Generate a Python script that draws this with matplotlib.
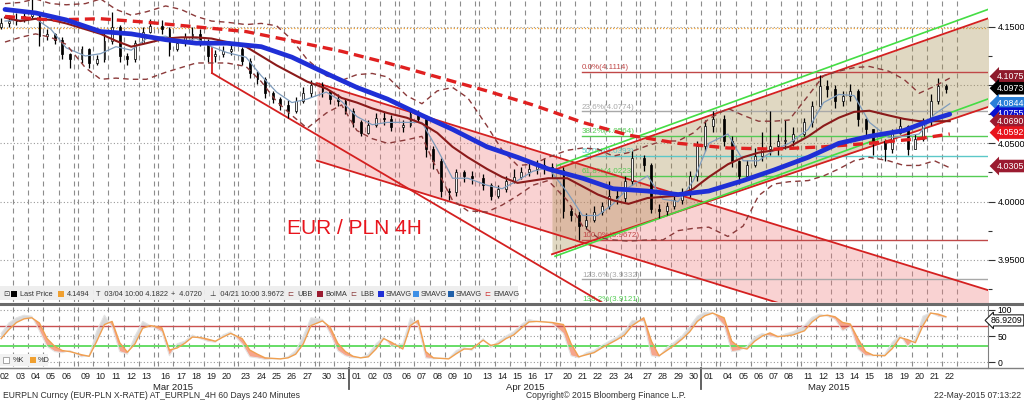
import numpy as np
import pandas as pd
import matplotlib
matplotlib.use('Agg')
import matplotlib.pyplot as plt
from matplotlib.patches import Rectangle
from matplotlib.lines import Line2D
from matplotlib.transforms import blended_transform_factory as blend

plt.rcParams['font.family'] = ['Liberation Sans', 'DejaVu Sans']

############################################################################################
# DATA

days = pd.bdate_range('2015-03-02', '2015-05-22')   # 60 trading days, two bars per day

first_open = 4.150
close = [
    4.153, 4.155, 4.156, 4.159, 4.162, 4.142, 4.144, 4.139, 4.127, 4.122,
    4.131, 4.119, 4.122, 4.138, 4.150, 4.125, 4.122, 4.136, 4.146, 4.151,
    4.148, 4.131, 4.136, 4.141, 4.144, 4.138, 4.125, 4.127, 4.129, 4.131,
    4.121, 4.110, 4.105, 4.093, 4.088, 4.083, 4.078, 4.086, 4.093, 4.100,
    4.095, 4.088, 4.086, 4.078, 4.068, 4.059, 4.066, 4.072, 4.071, 4.064,
    4.066, 4.075, 4.071, 4.045, 4.035, 4.009, 4.008, 4.025, 4.022, 4.020,
    4.014, 4.005, 4.011, 4.018, 4.021, 4.025, 4.028, 4.031, 4.030, 4.027,
    3.992, 3.988, 3.979, 3.984, 3.991, 3.996, 4.005, 4.003, 4.018, 4.037,
    4.031, 3.994, 3.992, 3.996, 4.001, 4.008, 4.022, 4.048, 4.065, 4.071,
    4.052, 4.035, 4.022, 4.031, 4.039, 4.045, 4.048, 4.052, 4.052, 4.058,
    4.068, 4.082, 4.099, 4.097, 4.086, 4.091, 4.095, 4.071, 4.062, 4.052,
    4.045, 4.059, 4.065, 4.045, 4.054, 4.069, 4.086, 4.099, 4.097,
]
high = [
    4.158, 4.160, 4.162, 4.163, 4.182, 4.163, 4.148, 4.145, 4.141, 4.128,
    4.134, 4.132, 4.126, 4.145, 4.163, 4.152, 4.128, 4.139, 4.150, 4.157,
    4.156, 4.150, 4.140, 4.145, 4.150, 4.148, 4.140, 4.130, 4.134, 4.137,
    4.133, 4.123, 4.112, 4.107, 4.095, 4.090, 4.087, 4.090, 4.098, 4.104,
    4.103, 4.096, 4.092, 4.088, 4.080, 4.070, 4.070, 4.076, 4.077, 4.074,
    4.070, 4.078, 4.079, 4.074, 4.048, 4.037, 4.012, 4.028, 4.027, 4.026,
    4.024, 4.016, 4.014, 4.022, 4.028, 4.030, 4.034, 4.036, 4.037, 4.033,
    4.030, 3.996, 3.992, 3.990, 3.996, 4.000, 4.018, 4.010, 4.022, 4.043,
    4.040, 4.033, 3.998, 4.000, 4.005, 4.012, 4.026, 4.052, 4.070, 4.078,
    4.074, 4.056, 4.036, 4.036, 4.046, 4.060, 4.078, 4.058, 4.070, 4.064,
    4.072, 4.086, 4.109, 4.104, 4.100, 4.095, 4.101, 4.097, 4.072, 4.062,
    4.054, 4.062, 4.072, 4.066, 4.058, 4.072, 4.092, 4.106, 4.101,
]
low = [
    4.148, 4.150, 4.152, 4.154, 4.157, 4.134, 4.139, 4.135, 4.122, 4.115,
    4.119, 4.115, 4.117, 4.120, 4.135, 4.120, 4.117, 4.120, 4.135, 4.145,
    4.144, 4.125, 4.129, 4.134, 4.139, 4.134, 4.120, 4.120, 4.124, 4.126,
    4.117, 4.106, 4.101, 4.089, 4.085, 4.079, 4.072, 4.076, 4.085, 4.090,
    4.090, 4.084, 4.082, 4.075, 4.064, 4.056, 4.058, 4.064, 4.066, 4.061,
    4.060, 4.064, 4.068, 4.038, 4.028, 4.004, 4.001, 4.005, 4.017, 4.015,
    4.010, 4.001, 4.003, 4.008, 4.016, 4.019, 4.022, 4.024, 4.024, 4.020,
    3.986, 3.983, 3.967, 3.976, 3.982, 3.988, 3.994, 3.998, 4.000, 4.014,
    4.026, 3.990, 3.986, 3.988, 3.994, 3.998, 4.004, 4.018, 4.043, 4.060,
    4.048, 4.030, 4.015, 4.020, 4.030, 4.035, 4.040, 4.040, 4.045, 4.048,
    4.056, 4.064, 4.080, 4.090, 4.080, 4.082, 4.086, 4.065, 4.055, 4.040,
    4.035, 4.042, 4.058, 4.040, 4.045, 4.052, 4.066, 4.084, 4.093,
]

# daily readings of the overlays (one value per trading day)
bolma = [
    4.158, 4.155, 4.157, 4.156, 4.153, 4.148, 4.144, 4.138, 4.133, 4.136,
    4.140, 4.141, 4.141, 4.140, 4.137, 4.133, 4.125, 4.117, 4.110, 4.103,
    4.097, 4.089, 4.085, 4.080, 4.076, 4.072, 4.067, 4.059, 4.047, 4.038,
    4.028, 4.021, 4.016, 4.018, 4.020, 4.020, 4.013, 4.006, 4.001, 3.998,
    4.003, 4.004, 4.005, 4.011, 4.021, 4.032, 4.038, 4.042, 4.044, 4.047,
    4.056, 4.065, 4.072, 4.077, 4.078, 4.074, 4.071, 4.069, 4.069, 4.069,
]
ubb = [
    4.170, 4.171, 4.174, 4.170, 4.169, 4.170, 4.174, 4.165, 4.160, 4.163,
    4.168, 4.165, 4.159, 4.155, 4.154, 4.152, 4.153, 4.151, 4.139, 4.122,
    4.108, 4.104, 4.109, 4.110, 4.107, 4.091, 4.084, 4.095, 4.098, 4.089,
    4.065, 4.044, 4.031, 4.032, 4.038, 4.044, 4.046, 4.045, 4.039, 4.042,
    4.048, 4.052, 4.052, 4.059, 4.071, 4.080, 4.074, 4.069, 4.069, 4.070,
    4.091, 4.108, 4.112, 4.115, 4.116, 4.112, 4.105, 4.093, 4.099, 4.106,
]
lbb = [
    4.137, 4.141, 4.144, 4.141, 4.135, 4.115, 4.105, 4.106, 4.105, 4.105,
    4.111, 4.115, 4.119, 4.119, 4.119, 4.116, 4.103, 4.086, 4.074, 4.063,
    4.076, 4.083, 4.061, 4.054, 4.050, 4.053, 4.056, 4.027, 4.001, 3.992,
    3.991, 3.997, 4.005, 4.014, 4.018, 4.001, 3.979, 3.969, 3.967, 3.966,
    3.967, 3.967, 3.975, 3.977, 3.978, 3.970, 3.979, 4.005, 4.015, 4.017,
    4.018, 4.022, 4.028, 4.035, 4.038, 4.035, 4.031, 4.031, 4.035, 4.029,
]
sma_fast = [
    4.155, 4.156, 4.157, 4.148, 4.132, 4.125, 4.127, 4.133, 4.130, 4.140,
    4.142, 4.137, 4.140, 4.133, 4.128, 4.124, 4.108, 4.094, 4.085, 4.088,
    4.094, 4.086, 4.073, 4.066, 4.068, 4.068, 4.068, 4.045, 4.020, 4.020,
    4.014, 4.011, 4.018, 4.026, 4.029, 4.008, 3.988, 3.988, 3.998, 4.012,
    4.022, 4.002, 4.000, 4.018, 4.050, 4.058, 4.035, 4.035, 4.044, 4.050,
    4.062, 4.085, 4.092, 4.091, 4.068, 4.055, 4.056, 4.058, 4.075, 4.084,
]
# slower lines, read every few days
sma_slow_day = [0, 2, 4, 6, 8, 10, 12, 14, 16, 18, 20, 22, 24, 26, 28, 30,
                32, 34, 36, 38, 40, 42, 44, 46, 48, 50, 52, 54, 56, 58, 59]
sma_slow = [4.165, 4.162, 4.156, 4.146, 4.144, 4.139, 4.136, 4.136, 4.133, 4.124,
            4.110, 4.098, 4.088, 4.074, 4.062, 4.047, 4.038, 4.028, 4.020, 4.011,
            4.009, 4.006, 4.009, 4.018, 4.027, 4.038, 4.050, 4.056, 4.061, 4.071, 4.075]
ema_day = [0, 3, 6, 9, 12, 15, 18, 21, 24, 27, 30, 33, 36, 39, 42, 45, 48, 51, 54, 57, 59]
ema = [4.159, 4.156, 4.157, 4.154, 4.150, 4.146, 4.138, 4.129, 4.119, 4.107,
       4.095, 4.083, 4.068, 4.057, 4.050, 4.046, 4.045, 4.047, 4.050, 4.054, 4.058]

# stochastics, one value per bar
stoch_d = [45, 62, 76, 83, 85, 75, 45, 30, 22, 20, 14, 11, 40, 72, 78, 37, 19, 35, 65, 70,
           66, 23, 27, 36, 48, 47, 44, 40, 48, 55, 45, 23, 15, 8, 7, 6, 8, 15, 35, 70,
           79, 67, 36, 20, 11, 8, 10, 25, 45, 38, 25, 70, 80, 20, 8, 7, 6, 16, 25, 25,
           42, 32, 35, 45, 52, 65, 77, 78, 77, 76, 72, 35, 10, 14, 18, 27, 35, 43, 52, 70,
           85, 40, 12, 22, 32, 44, 58, 78, 89, 94, 85, 40, 28, 25, 40, 50, 56, 49, 50, 52,
           60, 77, 88, 90, 87, 76, 73, 45, 20, 13, 12, 26, 47, 43, 37, 70, 94, 92, 87]
stoch_k = [55, 75, 85, 90, 88, 60, 30, 20, 18, 22, 10, 12, 60, 90, 68, 20, 15, 50, 78, 70,
           58, 12, 35, 40, 52, 45, 40, 38, 52, 58, 35, 10, 8, 5, 6, 6, 10, 22, 50, 85,
           82, 55, 22, 12, 8, 8, 15, 35, 48, 30, 35, 85, 70, 8, 6, 7, 7, 22, 28, 22,
           45, 28, 40, 50, 58, 72, 82, 78, 78, 74, 55, 12, 8, 18, 22, 32, 40, 48, 60, 80,
           78, 12, 10, 28, 38, 50, 68, 88, 96, 95, 70, 20, 22, 30, 48, 55, 50, 47, 54, 58,
           70, 86, 92, 88, 82, 60, 68, 25, 12, 12, 15, 38, 52, 30, 45, 88, 95, 88, 85]
stoch_last = 86.9209

# drawn trend lines: (trading day index, price)
down_steep = [(13.03, 4.1103), (37.33, 3.9128)]
down_upper = [(19.64, 4.1017), (61.5, 3.9239)]
down_lower_start = (19.64, 4.0351)
up_upper = [(34.25, 4.0265), (61.5, 4.1573)]
up_lower = [(34.25, 3.9547), (61.5, 4.0812)]
up_upper_green = [(34.58, 4.0308), (61.5, 4.1650)]
up_lower_green = [(34.45, 3.9530), (61.5, 4.0881)]

fib_start = 35.96
fib_names = ['0.0%', '23.6%', '38.2%', '50.0%', '61.8%', '100.0%', '123.6%', '138.2%']
fib_levels = [4.1114, 4.0774, 4.0564, 4.0393, 4.0223, 3.9672, 3.9332, 3.9121]
fib_colors = ['#c04848', '#a8a8a8', '#55cc55', '#5cc8c8', '#55cc55', '#c04848', '#a8a8a8', '#55cc55']

last_line = 4.1494
tags = [(4.1075, '#8e1b2c'), (4.0973, '#000000'), (4.0844, '#2a80d8'), (4.0755, '#0a10d0'),
        (4.0690, '#9b1b30'), (4.0592, '#e8141c'), (4.0305, '#9b1b30')]

############################################################################################

W, H = 1024, 401

def fx(px):
    return px / W

def fy(py):
    return 1 - py / H

wk = np.asarray((days - days[0]).days // 7)
day_start = np.arange(len(days)) + 0.25 * wk       # weekends take a quarter day on screen
centers = day_start + 0.5

def tx(kf):
    i = min(int(np.floor(kf)), len(centers) - 1)
    return centers[i] + (kf - i)

bar_x = np.ravel([[s + 0.25, s + 0.75] for s in day_start])[:len(close)]
XL = (0.173, 64.75)

fig = plt.figure(figsize=(10.24, 4.01), dpi=100)
ax = fig.add_axes([0, fy(302), fx(988), 302 / H])
ax2 = fig.add_axes([0, fy(368), fx(988), 63 / H])

# grid
vgrid = np.unique(np.round(np.concatenate([day_start, day_start + 1]), 4))
for a in (ax, ax2):
    a.vlines(vgrid, -100, 200, color='#8c8c8c', lw=0.8, linestyles=(0, (4.5, 3.6)), zorder=0.5)
    a.set_xlim(*XL)
for lv in [3.95, 4.00, 4.05, 4.10, 4.15]:
    ax.axhline(lv, color='#9a9a9a', lw=0.8, ls=(0, (1, 2)), zorder=0.6)
ax.axhline(last_line, color='#f0a030', lw=0.9, ls=(0, (1, 1.5)), zorder=0.7)

# channels
def line_through(pts, x0, x1):
    (ax_, ay), (bx_, by) = [(tx(k), p) for k, p in pts]
    m = (by - ay) / (bx_ - ax_)
    return np.array([x0, x1]), np.array([ay + m * (x0 - ax_), ay + m * (x1 - ax_)]), m

xr = XL[1] + 1
xu, yu, mu = line_through(down_upper, tx(down_upper[0][0]), xr)
yl = down_lower_start[1] + mu * (xu - xu[0])
ax.fill_between(xu, yl, yu, color='#f08080', alpha=0.35, lw=0, zorder=1)
ax.plot(xu, yu, color='#d42020', lw=1.3, zorder=2.5)
ax.plot(xu, yl, color='#d42020', lw=1.3, zorder=2.5)
xs_, ys_, _ = line_through(down_steep, tx(down_steep[0][0]), xr)
ax.plot(xs_, ys_, color='#d42020', lw=1.3, zorder=2.5)
ax.plot([xs_[0], xs_[0]], [ys_[0], 4.1317], color='#d42020', lw=1.3, zorder=2.5)

xa, ya_up, _ = line_through(up_upper, tx(up_upper[0][0]), xr)
_, ya_lo, _ = line_through(up_lower, tx(up_lower[0][0]), xr)
ax.fill_between(xa, ya_lo, ya_up, color='#a89050', alpha=0.35, lw=0, zorder=1.1)
ax.plot(xa, ya_up, color='#d42020', lw=1.3, zorder=2.6)
ax.plot(xa, ya_lo, color='#d42020', lw=1.3, zorder=2.6)
for pts in (up_upper_green, up_lower_green):
    gx, gy, _ = line_through(pts, tx(pts[0][0]), xr)
    ax.plot(gx, gy, color='#44dd44', lw=1.2, zorder=2.6)

# fibonacci levels
fx0 = tx(fib_start)
for name, lv, c in zip(fib_names, fib_levels, fib_colors):
    ax.plot([fx0, XL[1]], [lv, lv], color=c, lw=1.0, zorder=2)
    ax.text(fx0, lv + 0.0004, '%s(%.4f)' % (name, lv), color=c, fontsize=5.8,
            va='bottom', ha='left', zorder=2.2)

# candles
opens = np.array([first_open] + close[:-1])
cl = np.array(close)
ax.vlines(bar_x, low, high, color='black', lw=0.9, zorder=4)
up = cl >= opens
body_lo = np.minimum(opens, cl)
body_h = np.maximum(np.abs(cl - opens), 0.0006)
ax.bar(bar_x[up], body_h[up], bottom=body_lo[up], width=0.12, color='#f4f4f4',
       edgecolor='black', lw=0.5, zorder=4.1)
ax.bar(bar_x[~up], body_h[~up], bottom=body_lo[~up], width=0.12, color='black',
       edgecolor='black', lw=0.5, zorder=4.1)

# overlays
ax.plot(centers, sma_fast, color='#7f9cbc', lw=0.9, zorder=5)
ax.plot(centers, ubb, color='#8b3a3a', lw=1.0, dashes=(4, 3), zorder=5)
ax.plot(centers, lbb, color='#8b3a3a', lw=1.0, dashes=(4, 3), zorder=5)
ax.plot(centers, bolma, color='#8b1a1a', lw=1.5, zorder=5.2)
ax.plot(centers[ema_day], ema, color='#e02020', lw=2.4, dashes=(3, 1.8), zorder=5.4)
ax.plot(centers[sma_slow_day], sma_slow, color='#1f2fd6', lw=3.4, zorder=5.5,
        solid_capstyle='round')

ax.text(0.3583, 0.245, 'EUR / PLN 4H', transform=ax.transAxes, color='#e8141c',
        fontsize=15, ha='center', va='center', zorder=6)

ax.set_ylim(3.9137, 4.1731)
for s in ax.spines.values():
    s.set_visible(False)
ax.tick_params(axis='x', bottom=False, labelbottom=False)
ax.yaxis.tick_right()
ax.set_yticks([3.95, 4.00, 4.05, 4.10, 4.15])
ax.set_yticklabels(['3.9500', '4.0000', '4.0500', '', '4.1500'])   # 4.1000 sits under the tags
ax.set_yticks([3.925, 3.975, 4.025, 4.075, 4.125], minor=True)
ax.tick_params(axis='y', which='major', labelsize=6.5, length=5, width=0.8, pad=2,
               color='#333333')
ax.tick_params(axis='y', which='minor', length=3, width=0.8, color='#333333')

tr = blend(ax.transAxes, ax.transData)
for price, c in tags:
    ax.text(1.0085, price, '%.4f' % price, transform=tr, color='white', fontsize=6.4,
            va='center', ha='left', clip_on=False, zorder=10,
            bbox=dict(boxstyle='larrow,pad=0.2', fc=c, ec='none'))

# stochastics panel
sk = np.array(stoch_k, float)
sd = np.array(stoch_d, float)
ax2.fill_between(bar_x, sk, sd, where=sk < sd, interpolate=True, color='#f6a58c', lw=0, zorder=1)
ax2.fill_between(bar_x, sk, sd, where=sk >= sd, interpolate=True, color='#d8d8d8', lw=0, zorder=1)
for lv in (0, 50, 100):
    ax2.axhline(lv, color='#9a9a9a', lw=0.8, ls=(0, (1, 2)), zorder=0.6)
ax2.axhline(70, color='#c85050', lw=1.0, zorder=1.5)
ax2.axhline(30, color='#66dd66', lw=1.4, zorder=1.5)
ax2.plot(bar_x, sk, color='#e4e4e4', lw=0.8, zorder=2)
ax2.plot(bar_x, sd, color='#f0a050', lw=1.0, zorder=2.2)
ax2.set_ylim(-11.5, 109.6)
for k in ('top', 'left'):
    ax2.spines[k].set_visible(False)
for k in ('bottom', 'right'):
    ax2.spines[k].set_color('#808080')
ax2.yaxis.tick_right()
ax2.set_yticks([0, 50, 100])
ax2.tick_params(axis='y', labelsize=6.2, length=5, width=0.8, pad=2, color='#333333')
ax2.set_xticks(centers)
ax2.set_xticklabels(days.strftime('%d'), fontsize=6.5, color='#202020')
ax2.tick_params(axis='x', length=0, pad=3)
tr2 = blend(ax2.transAxes, ax2.transData)
ax2.text(1.003, 80, '%.4f' % stoch_last, transform=tr2, color='black', fontsize=6.3,
         va='center', ha='left', clip_on=False, zorder=10,
         bbox=dict(boxstyle='larrow,pad=0.12', fc='white', ec='#222222', lw=0.8))

# %K / %D key
fig.add_artist(Rectangle((0, fy(366)), fx(48), 12 / H, transform=fig.transFigure,
                         fc='#f2f2f2', ec='none', zorder=6))
fig.add_artist(Rectangle((fx(3), fy(363)), fx(6), 6 / H, transform=fig.transFigure,
                         fc='white', ec='#999999', lw=0.6, zorder=7))
fig.add_artist(Rectangle((fx(30), fy(363)), fx(6), 6 / H, transform=fig.transFigure,
                         fc='#f0a030', ec='none', zorder=7))
fig.text(fx(13), fy(360), '%K', fontsize=5.3, va='center', color='#333333', zorder=7)
fig.text(fx(38), fy(360), '%D', fontsize=5.3, va='center', color='#333333', zorder=7)

# month labels and separators
trm = blend(ax2.transData, fig.transFigure)
for m, lab in ((3, 'Mar 2015'), (4, 'Apr 2015'), (5, 'May 2015')):
    sel = centers[days.month == m]
    ax2.text((sel[0] + sel[-1]) / 2, fy(387), lab, transform=trm, fontsize=6.8,
             ha='center', va='center', color='#202020', clip_on=False)
for m in (4, 5):
    xsep = day_start[np.argmax(days.month == m)]
    fig.add_artist(Line2D([xsep, xsep], [fy(368), fy(389)], transform=trm,
                          color='#555555', lw=1.3))

# panel separators
fig.add_artist(Line2D([0, 1], [fy(303.5), fy(303.5)], transform=fig.transFigure,
                      color='#6a6a6a', lw=2.2, zorder=5))
fig.add_artist(Line2D([0, 1], [fy(368), fy(368)], transform=fig.transFigure,
                      color='#808080', lw=1.0, zorder=5))

# legend strip of the price panel
fig.add_artist(Rectangle((0, fy(300)), fx(518), 14 / H, transform=fig.transFigure,
                         fc='#eeeeee', ec='none', alpha=0.95, zorder=6))
legend_items = [
    ('tx', 3, '⊡', '#333333'), ('sq', 11, '', '#000000'), ('tx', 20, 'Last Price', '#333333'),
    ('sq', 58, '', '#f0a030'), ('tx', 67, '4.1494', '#333333'),
    ('tx', 96, 'T  03/04 10:00 4.1822', '#333333'), ('tx', 171, '+  4.0720', '#333333'),
    ('tx', 210, '⊥  04/21 10:00 3.9672', '#333333'),
    ('tx', 287, '⊏', '#8b3a3a'), ('tx', 297, 'UBB', '#333333'),
    ('sq', 317, '', '#9b1b30'), ('tx', 325, 'BolMA', '#333333'),
    ('tx', 350, '⊏', '#8b3a3a'), ('tx', 360, 'LBB', '#333333'),
    ('sq', 378, '', '#1f2fd6'), ('tx', 386, 'SMAVG', '#333333'),
    ('sq', 413, '', '#3d8fe6'), ('tx', 421, 'SMAVG', '#333333'),
    ('sq', 448, '', '#1f5fa8'), ('tx', 456, 'SMAVG', '#333333'),
    ('tx', 484, '⊏', '#d03030'), ('tx', 493, 'EMAVG', '#333333'),
]
for kind, px, txt, c in legend_items:
    if kind == 'sq':
        fig.add_artist(Rectangle((fx(px), fy(297)), fx(6), 6 / H, transform=fig.transFigure,
                                 fc=c, ec='none', zorder=7))
    else:
        fig.text(fx(px), fy(294), txt, fontsize=5.3, color=c, va='center', zorder=7)

# footer
fig.text(fx(3), fy(396), 'EURPLN Curncy (EUR-PLN X-RATE) AT_EURPLN_4H 60 Days 240 Minutes',
         fontsize=6.2, va='center', color='#303030')
fig.text(fx(526), fy(396), 'Copyright© 2015 Bloomberg Finance L.P.', fontsize=6.2,
         va='center', color='#303030')
fig.text(fx(1021), fy(396), '22-May-2015 07:13:22', fontsize=6.2, va='center', ha='right',
         color='#303030')

fig.savefig('out.png', dpi=100, facecolor='white')
